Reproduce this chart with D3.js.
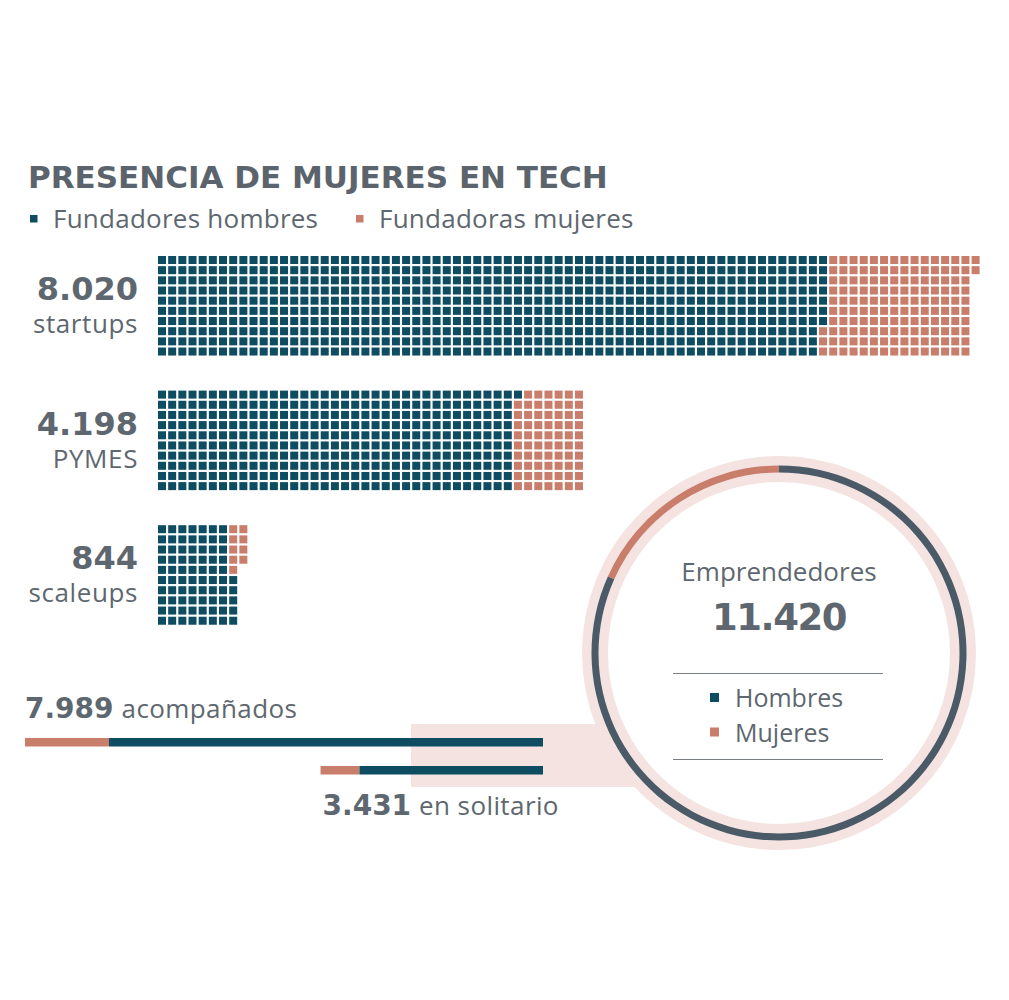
<!DOCTYPE html>
<html><head><meta charset="utf-8">
<script src="https://cdn.jsdelivr.net/npm/d3@7"></script>
<style>body{margin:0;background:#fff}</style>
</head><body>
<svg id="chart" width="1009" height="1000"></svg>
<script>
// ---------- DATA ----------
const title = "PRESENCIA DE MUJERES EN TECH";
const legendLabels = ["Fundadores hombres", "Fundadoras mujeres"];
const categories = ["startups", "PYMES", "scaleups"];
const totals = [8020, 4198, 844];
const menFounders = [6570, 3510, 750];
const womenFounders = [1450, 690, 90];
const unitPerCell = 10;
const womenOnTopInSplit = [false, false, true];

const barLabels = ["acompañados", "en solitario"];
const barTotals = [7989, 3431];
const barWomen = [1296, 600];
const barMen = [6693, 2831];

const donutTitle = "Emprendedores";
const donutTotal = 11420;
const donutLabels = ["Hombres", "Mujeres"];
const donutValues = [9330, 2090];

// ---------- STYLE ----------
const C = {men:"#0e4c61", women:"#c97e6c", ring:"#4a5a67", pale:"#f4e3e1", text:"#5e676f", rule:"#7a7f84"};
const BOLD = "'DejaVu Sans', sans-serif";
const REG = "'Open Sans', sans-serif";
const fmt = d3.formatLocale({decimal:",", thousands:".", grouping:[3], currency:["","€"]}).format(",d");

const svg = d3.select("#chart");

// Title
svg.append("text").attr("x", 28).attr("y", 188)
  .attr("font-family", BOLD).attr("font-weight", 700).attr("font-size", 31)
  .attr("fill", "#5b646c").text(title);

// Legend
const legX = [30, 356];
legendLabels.forEach((l, i) => {
  svg.append("rect").attr("x", legX[i]).attr("y", 215).attr("width", 7.5).attr("height", 7.5)
    .attr("fill", i === 0 ? C.men : C.women);
  svg.append("text").attr("x", legX[i] + 23).attr("y", 228)
    .attr("font-family", REG).attr("font-size", 26).attr("letter-spacing", 0.25)
    .attr("fill", C.text).text(l);
});

// Waffles
const pitch = 10.17, cellSize = 8;
const colX = d3.scaleLinear().domain([0, 1]).range([158, 158 + pitch]);
const rowY = d3.scaleLinear().domain([0, 1]).range([0, pitch]);
const groupY = d3.scaleLinear().domain([0, 1]).range([256, 256 + 134.6]);

categories.forEach((c, k) => {
  const nCells = Math.round(totals[k] / unitPerCell);
  const nMen = Math.round(menFounders[k] / unitPerCell);
  const cells = d3.range(nCells).map(i => ({col: Math.floor(i / 10), row: i % 10, men: i < nMen}));
  if (womenOnTopInSplit[k]) {
    const split = Math.floor(nMen / 10);
    const inCol = cells.filter(d => d.col === split);
    inCol.forEach(d => { d.row = inCol.length - 1 - d.row; });
  }
  const g = svg.append("g").attr("transform", `translate(0,${groupY(k)})`);
  g.selectAll("rect").data(cells).join("rect")
    .attr("x", d => colX(d.col)).attr("y", d => rowY(d.row))
    .attr("width", cellSize).attr("height", cellSize)
    .attr("fill", d => d.men ? C.men : C.women);
  g.append("text").attr("x", 138).attr("y", 44).attr("text-anchor", "end")
    .attr("font-family", BOLD).attr("font-weight", 700).attr("font-size", 32)
    .attr("fill", C.text).text(fmt(totals[k]));
  g.append("text").attr("x", 138).attr("y", 77).attr("text-anchor", "end")
    .attr("font-family", REG).attr("font-size", 26).attr("letter-spacing", 0.6)
    .attr("fill", C.text).text(c);
});

// Pale connector rect
svg.append("rect").attr("x", 411).attr("y", 724).attr("width", 230).attr("height", 63).attr("fill", C.pale);

// Bars
const barRight = 543;
const bx = d3.scaleLinear().domain([0, barTotals[0]]).range([0, 518]);
const barY = [738, 766];
barTotals.forEach((t, i) => {
  const x0 = barRight - bx(t);
  svg.append("rect").attr("x", x0).attr("y", barY[i]).attr("width", bx(barWomen[i])).attr("height", 8.5).attr("fill", C.women);
  svg.append("rect").attr("x", x0 + bx(barWomen[i])).attr("y", barY[i]).attr("width", bx(barMen[i])).attr("height", 8.5).attr("fill", C.men);
});
const barLabelPos = [[25, 718], [barRight - bx(barTotals[1]) + 2, 815]];
barLabels.forEach((l, i) => {
  const t = svg.append("text").attr("x", barLabelPos[i][0]).attr("y", barLabelPos[i][1]).attr("fill", C.text);
  t.append("tspan").attr("font-family", BOLD).attr("font-weight", 700).attr("font-size", 28).text(fmt(barTotals[i]));
  t.append("tspan").attr("dx", 8).attr("font-family", REG).attr("font-size", 26).attr("letter-spacing", 0.4).text(l);
});

// Donut
const cx = 779, cy = 653;
const dg = svg.append("g").attr("transform", `translate(${cx},${cy})`);
dg.append("circle").attr("r", 184).attr("fill", "#fff").attr("stroke", C.pale).attr("stroke-width", 26);
const thetaW = donutValues[1] / d3.sum(donutValues) * 2 * Math.PI;
const pie = d3.pie().sort(null).startAngle(-thetaW).endAngle(2 * Math.PI - thetaW);
const arcs = pie([donutValues[1], donutValues[0]]);
const arc = d3.arc().innerRadius(180.5).outerRadius(187.5);
dg.selectAll("path").data(arcs).join("path").attr("d", arc)
  .attr("fill", (d, i) => i === 0 ? C.women : C.ring);

dg.append("text").attr("y", 581 - cy).attr("text-anchor", "middle")
  .attr("font-family", REG).attr("font-size", 26).attr("fill", C.text).text(donutTitle);
dg.append("text").attr("y", 630 - cy).attr("text-anchor", "middle")
  .attr("font-family", BOLD).attr("font-weight", 700).attr("font-size", 37).attr("letter-spacing", -1.5)
  .attr("fill", C.text).text(fmt(donutTotal));
[673.5, 759.5].forEach(y => {
  dg.append("line").attr("x1", 673 - cx).attr("x2", 883 - cx).attr("y1", y - cy).attr("y2", y - cy)
    .attr("stroke", C.rule).attr("stroke-width", 1);
});
donutLabels.forEach((l, i) => {
  const y = 693 + i * 34.5 - cy;
  dg.append("rect").attr("x", 710 - cx).attr("y", y).attr("width", 9).attr("height", 9)
    .attr("fill", i === 0 ? C.men : C.women);
  dg.append("text").attr("x", 735 - cx).attr("y", y + 14).attr("font-family", REG).attr("font-size", 25)
    .attr("fill", C.text).text(l);
});
</script>
</body></html>
